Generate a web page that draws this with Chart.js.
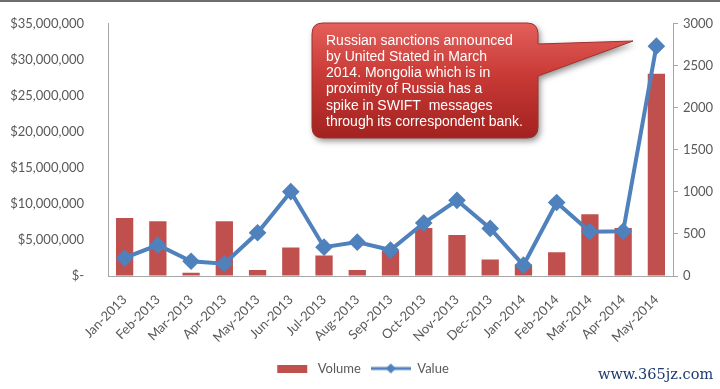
<!DOCTYPE html>
<html>
<head>
<meta charset="utf-8">
<script src="https://cdn.jsdelivr.net/npm/chart.js@4.4.1/dist/chart.umd.min.js"></script>
<style>
  html, body { margin: 0; padding: 0; background: #fff; }
  #wrap { position: relative; width: 720px; height: 389px; overflow: hidden; }
  #topline { position: absolute; left: 0; top: 0; width: 720px; height: 2px; background: #6e6e6e; }
  #mark { position: absolute; left: 598px; top: 366px; font-family: "DejaVu Serif", serif; font-size: 14.5px; color: #1b3a70; }
</style>
</head>
<body>
<div id="wrap">
  <canvas id="swiftChart" width="720" height="389"></canvas>
  <div id="topline"></div>
  <div id="mark">www.365jz.com</div>
</div>
<script>
// Données
const months = ['Jan-2013', 'Feb-2013', 'Mar-2013', 'Apr-2013', 'May-2013', 'Jun-2013', 'Jul-2013', 'Aug-2013',
    'Sep-2013', 'Oct-2013', 'Nov-2013', 'Dec-2013', 'Jan-2014', 'Feb-2014', 'Mar-2014', 'Apr-2014', 'May-2014'];
const volume = [690, 650, 40, 650, 70, 340, 245, 70, 300, 572, 487, 195, 137, 284, 735, 572, 2405];
const value = [2500000, 4300000, 2050000, 1700000, 6000000, 11700000, 4000000, 4700000, 3600000,
    7350000, 10500000, 6600000, 1500000, 10200000, 6150000, 6200000, 31900000];
const valueTicks = [0, 5000000, 10000000, 15000000, 20000000, 25000000, 30000000, 35000000];
const volumeTicks = [0, 500, 1000, 1500, 2000, 2500, 3000];

const noteLines = [
    'Russian sanctions announced',
    'by United Stated in March',
    '2014. Mongolia which is in',
    'proximity of Russia has a',
    'spike in SWIFT  messages',
    'through its correspondent bank.'
];

const red = '#C0504D';
const blue = '#4F81BD';
const axisGrey = '#a6a6a6';
const textGrey = '#595959';

// Petites images pour la légende
const barIcon = document.createElement('canvas');
barIcon.width = 40; barIcon.height = 8;
let c = barIcon.getContext('2d');
c.fillStyle = red;
c.fillRect(6, 0, 30, 8);

const lineIcon = document.createElement('canvas');
lineIcon.width = 40; lineIcon.height = 12;
c = lineIcon.getContext('2d');
c.strokeStyle = blue;
c.lineWidth = 3;
c.beginPath(); c.moveTo(0, 6); c.lineTo(40, 6); c.stroke();
c.fillStyle = blue;
c.beginPath(); c.moveTo(20, 1); c.lineTo(25, 6); c.lineTo(20, 11); c.lineTo(15, 6); c.closePath(); c.fill();

// Bulle d'annotation
const calloutPlugin = {
    id: 'callout',
    afterDatasetsDraw(chart) {
        const ctx = chart.ctx;
        const x0 = 312, y0 = 23, x1 = 538, y1 = 138, r = 11;
        ctx.save();
        ctx.beginPath();
        ctx.moveTo(x0 + r, y0);
        ctx.lineTo(x1 - r, y0);
        ctx.quadraticCurveTo(x1, y0, x1, y0 + r);
        ctx.lineTo(x1, 44);
        ctx.lineTo(633, 41);
        ctx.lineTo(x1, 76);
        ctx.lineTo(x1, y1 - r);
        ctx.quadraticCurveTo(x1, y1, x1 - r, y1);
        ctx.lineTo(x0 + r, y1);
        ctx.quadraticCurveTo(x0, y1, x0, y1 - r);
        ctx.lineTo(x0, y0 + r);
        ctx.quadraticCurveTo(x0, y0, x0 + r, y0);
        ctx.closePath();
        const grad = ctx.createLinearGradient(0, y0, 0, y1);
        grad.addColorStop(0, '#e4605b');
        grad.addColorStop(0.45, '#c93a36');
        grad.addColorStop(1, '#a2221f');
        ctx.fillStyle = grad;
        ctx.shadowColor = 'rgba(0,0,0,0.45)';
        ctx.shadowBlur = 6;
        ctx.shadowOffsetX = 2;
        ctx.shadowOffsetY = 3;
        ctx.fill();
        ctx.shadowColor = 'transparent';
        ctx.strokeStyle = '#a0302c';
        ctx.lineWidth = 1;
        ctx.stroke();
        ctx.fillStyle = '#ffffff';
        ctx.font = '14px "Liberation Sans", Arial, sans-serif';
        ctx.textBaseline = 'middle';
        noteLines.forEach((t, i) => ctx.fillText(t, 326, 41 + i * 16.2));
        ctx.restore();
    }
};

const ctx = document.getElementById('swiftChart').getContext('2d');
const swiftChart = new Chart(ctx, {
    type: 'bar',
    data: {
        labels: months,
        datasets: [{
            label: 'Volume',
            data: volume,
            backgroundColor: red,
            yAxisID: 'y1',
            order: 1,
            barPercentage: 0.52,
            categoryPercentage: 1
        }, {
            type: 'line',
            label: 'Value',
            data: value,
            borderColor: blue,
            backgroundColor: blue,
            borderWidth: 4,
            pointStyle: 'rectRot',
            pointRadius: 6,
            pointBackgroundColor: blue,
            pointBorderColor: blue,
            yAxisID: 'y',
            order: 0,
            tension: 0
        }]
    },
    options: {
        responsive: false,
        animation: false,
        layout: { padding: { top: 18, bottom: 4, left: 0, right: 0 } },
        scales: {
            x: {
                grid: { display: false },
                border: { color: axisGrey },
                ticks: {
                    color: textGrey,
                    font: { family: 'Lato', size: 13 },
                    minRotation: 45,
                    maxRotation: 45,
                    autoSkip: false,
                    padding: 8
                },
                afterFit(scale) { scale.height = 76; }
            },
            y: {
                position: 'left',
                min: 0,
                max: 35000000,
                afterBuildTicks(scale) { scale.ticks = valueTicks.map(v => ({ value: v })); },
                grid: { display: false },
                border: { color: axisGrey },
                ticks: {
                    color: textGrey,
                    font: { family: 'Lato', size: 13 },
                    padding: 16,
                    callback: v => v === 0 ? '$-' : '$' + v.toLocaleString('en-US')
                },
                afterFit(scale) { scale.width = 108; }
            },
            y1: {
                position: 'right',
                min: 0,
                max: 3000,
                afterBuildTicks(scale) { scale.ticks = volumeTicks.map(v => ({ value: v })); },
                grid: { drawOnChartArea: false, color: axisGrey, tickLength: 5 },
                border: { color: axisGrey },
                ticks: {
                    color: textGrey,
                    font: { family: 'Lato', size: 13 },
                    padding: 5,
                    callback: v => String(v)
                },
                afterFit(scale) { scale.width = 47; }
            }
        },
        plugins: {
            legend: {
                position: 'bottom',
                labels: {
                    color: textGrey,
                    font: { family: 'Lato', size: 13 },
                    usePointStyle: true,
                    pointStyleWidth: 40,
                    padding: 10,
                    generateLabels: () => [
                        { text: 'Volume', pointStyle: barIcon, fontColor: textGrey, datasetIndex: 0, hidden: false },
                        { text: 'Value', pointStyle: lineIcon, fontColor: textGrey, datasetIndex: 1, hidden: false }
                    ]
                }
            },
            tooltip: { enabled: false }
        }
    },
    plugins: [calloutPlugin]
});
</script>
</body>
</html>
